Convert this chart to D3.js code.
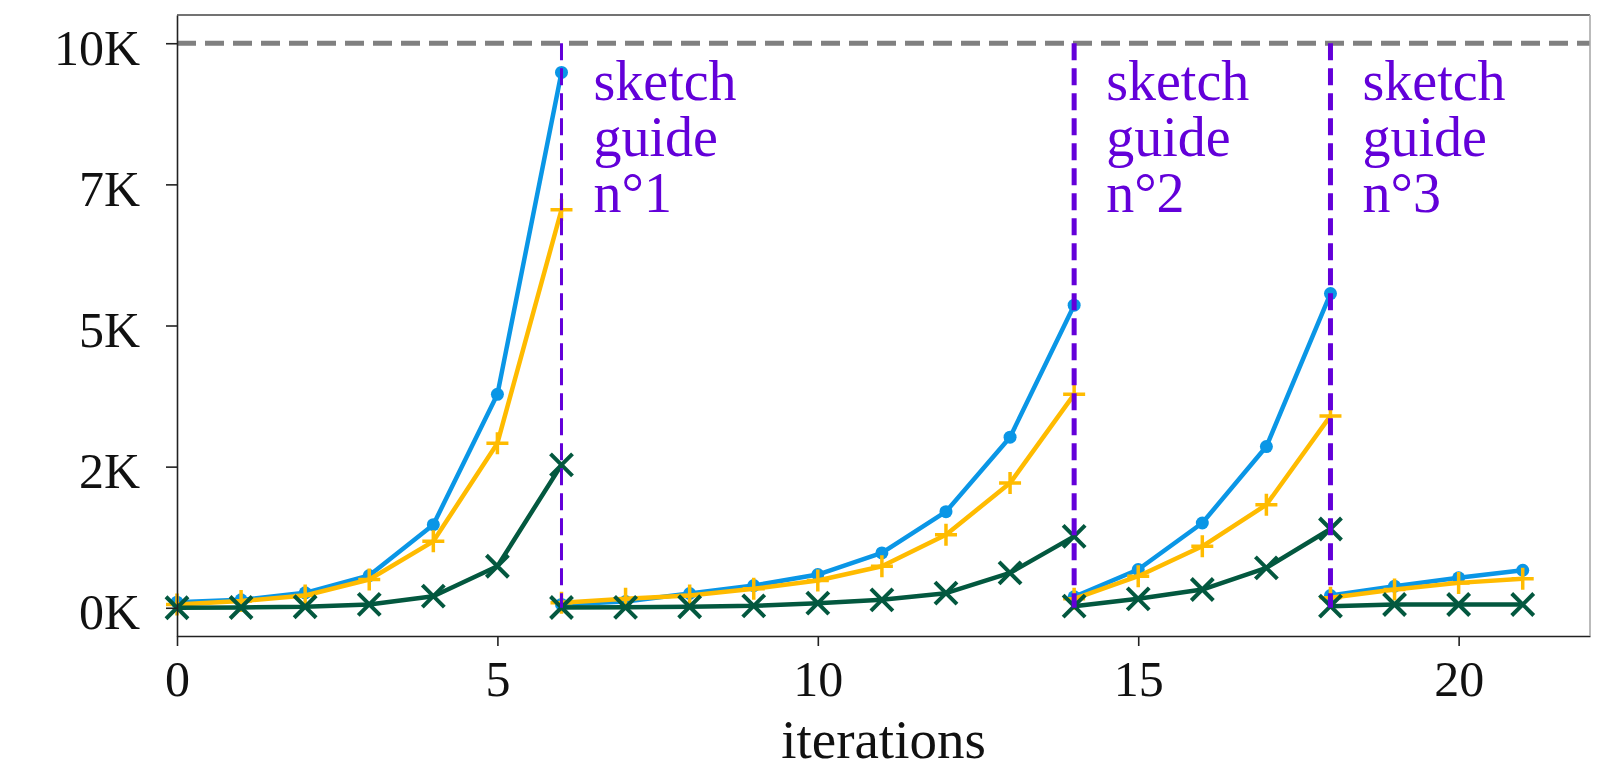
<!DOCTYPE html>
<html>
<head>
<meta charset="utf-8">
<script src="https://cdn.jsdelivr.net/npm/d3@7"></script>
<style>
  html, body { margin: 0; padding: 0; background: #fff; }
  svg { display: block; font-family: "Liberation Serif", "DejaVu Serif", serif; }
</style>
</head>
<body>
<svg id="chart" width="1624" height="773"></svg>
<script>
"use strict";

// ---------------------------------------------------------------------------
// Growth per iteration, restarted each time a sketch guide is introduced.
// Three series, each broken into four runs (one run between two guides).
// ---------------------------------------------------------------------------

const segmentX = [
  [0, 1, 2, 3, 4, 5, 6],
  [6, 7, 8, 9, 10, 11, 12, 13, 14],
  [14, 15, 16, 17, 18],
  [18, 19, 20, 21],
];

const blueValues = [
  [100, 140, 265, 571, 1472, 3781, 9482],
  [60, 110, 253, 394, 588, 972, 1702, 3022, 5360],
  [194, 677, 1502, 2856, 5566],
  [217, 382, 530, 665],
];

const yellowValues = [
  [59, 118, 217, 500, 1177, 2915, 7050],
  [88, 159, 217, 336, 482, 735, 1295, 2209, 3781],
  [159, 559, 1089, 1825, 3398],
  [177, 323, 441, 512],
];

const greenValues = [
  [0, 5, 18, 59, 205, 735, 2532],
  [5, 8, 18, 35, 81, 141, 258, 618, 1265],
  [28, 159, 323, 707, 1396],
  [28, 58, 58, 58],
];

const guideIterations = [6, 14, 18];
const guideLabels = [
  ["sketch", "guide", "n°1"],
  ["sketch", "guide", "n°2"],
  ["sketch", "guide", "n°3"],
];

const budget = 10000;
const yTickValues = [0, 2500, 5000, 7500, 10000];
const yTickLabels = ["0K", "2K", "5K", "7K", "10K"];
const xTickValues = [0, 5, 10, 15, 20];
const xLabel = "iterations";

const series = [
  { values: blueValues, color: "#0a96e6", marker: "circle" },
  { values: yellowValues, color: "#ffbb00", marker: "plus" },
  { values: greenValues, color: "#03583f", marker: "cross" },
];

const PURPLE = "#6300d9";

// frame of the axes, in page pixels
const frame = { left: 177, right: 1590, top: 15, bottom: 636 };

const x = d3.scaleLinear().domain([0, 22.05]).range([frame.left, frame.right]);
const y = d3.scaleLinear().domain([-500, 10500]).range([frame.bottom, frame.top]);

const svg = d3.select("#chart");

// 10K budget line
svg.append("line")
  .attr("x1", frame.left).attr("x2", frame.right)
  .attr("y1", y(budget)).attr("y2", y(budget))
  .attr("stroke", "#808080")
  .attr("stroke-width", 5)
  .attr("stroke-dasharray", "19 9");

// series: one polyline per run, markers at every point
const line = d3.line().x((d) => x(d[0])).y((d) => y(d[1]));

series.forEach((s) => {
  const g = svg.append("g");
  s.values.forEach((run, i) => {
    const pts = run.map((v, j) => [segmentX[i][j], v]);
    g.append("path")
      .attr("d", line(pts))
      .attr("fill", "none")
      .attr("stroke", s.color)
      .attr("stroke-width", 4.5)
      .attr("stroke-linejoin", "round");

    const m = g.selectAll(null)
      .data(pts)
      .enter()
      .append("g")
      .attr("transform", (d) => `translate(${x(d[0])},${y(d[1])})`);

    if (s.marker === "circle") {
      m.append("circle").attr("r", 6.5).attr("fill", s.color);
    } else if (s.marker === "plus") {
      m.append("path")
        .attr("d", "M-11,0H11M0,-11V11")
        .attr("stroke", s.color)
        .attr("stroke-width", 3.5);
    } else {
      m.append("path")
        .attr("d", "M-11,-11L11,11M-11,11L11,-11")
        .attr("stroke", s.color)
        .attr("stroke-width", 4);
    }
  });
});

// sketch guide markers
svg.append("g")
  .selectAll("line")
  .data(guideIterations)
  .enter()
  .append("line")
  .attr("x1", (d) => x(d)).attr("x2", (d) => x(d))
  .attr("y1", y(budget)).attr("y2", y(0))
  .attr("stroke", PURPLE)
  .attr("stroke-width", (d, i) => (i === 0 ? 3 : 5))
  .attr("stroke-dasharray", "17 8");

const notes = svg.append("g")
  .selectAll("text")
  .data(guideIterations)
  .enter()
  .append("text")
  .attr("x", (d) => x(d + 0.5))
  .attr("y", y(budget) + 57)
  .attr("fill", PURPLE)
  .attr("font-size", 56);

notes.each(function (d, i) {
  d3.select(this)
    .selectAll("tspan")
    .data(guideLabels[i])
    .enter()
    .append("tspan")
    .attr("x", x(d + 0.5))
    .attr("dy", (t, k) => (k === 0 ? 0 : 56))
    .text((t) => t);
});

// axes
const yAxis = svg.append("g")
  .attr("transform", `translate(${frame.left},0)`)
  .call(
    d3.axisLeft(y)
      .tickValues(yTickValues)
      .tickFormat((d, i) => yTickLabels[i])
      .tickSize(11)
      .tickSizeOuter(0)
      .tickPadding(26)
  );

const xAxis = svg.append("g")
  .attr("transform", `translate(0,${frame.bottom})`)
  .call(
    d3.axisBottom(x)
      .tickValues(xTickValues)
      .tickFormat(d3.format("d"))
      .tickSize(10)
      .tickSizeOuter(0)
      .tickPadding(14)
  );

[yAxis, xAxis].forEach((a) => {
  a.select(".domain").attr("stroke", "#222").attr("stroke-width", 1.6);
  a.selectAll(".tick line").attr("stroke", "#222").attr("stroke-width", 1.6);
  a.selectAll("text")
    .attr("fill", "#111")
    .attr("font-size", 50)
    .attr("font-family", "Liberation Serif, DejaVu Serif, serif");
});
yAxis.selectAll("text").attr("dy", "0.42em");
xAxis.selectAll("text").attr("dy", "0.72em");

// top and right spines
svg.append("line")
  .attr("x1", frame.left).attr("x2", frame.right)
  .attr("y1", frame.top).attr("y2", frame.top)
  .attr("stroke", "#444").attr("stroke-width", 1.6);
svg.append("line")
  .attr("x1", frame.right).attr("x2", frame.right)
  .attr("y1", frame.top).attr("y2", frame.bottom)
  .attr("stroke", "#aaa").attr("stroke-width", 1.6);

svg.append("text")
  .attr("x", (frame.left + frame.right) / 2)
  .attr("y", 758)
  .attr("text-anchor", "middle")
  .attr("fill", "#111")
  .attr("font-size", 55)
  .text(xLabel);
</script>
</body>
</html>
